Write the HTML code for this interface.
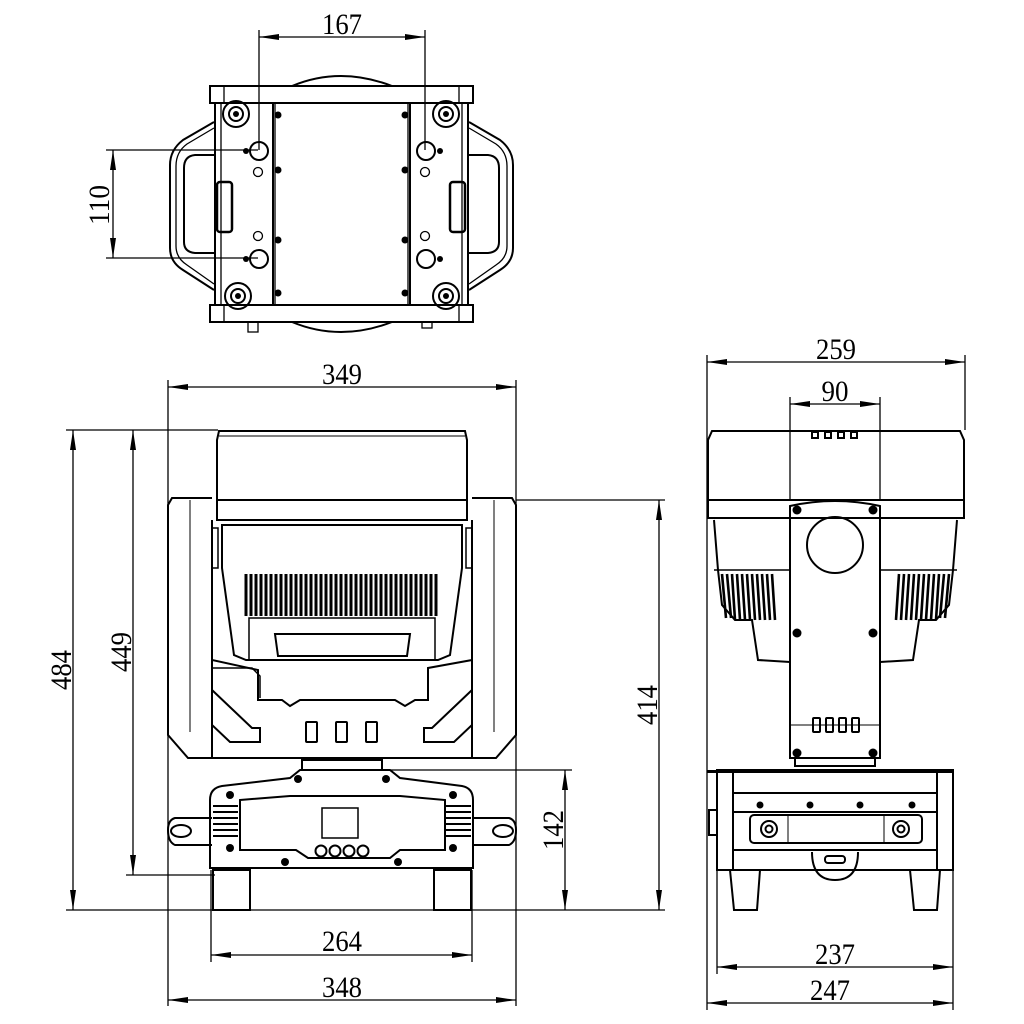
<!DOCTYPE html>
<html><head><meta charset="utf-8"><style>
html,body{margin:0;padding:0;background:#fff}
svg{display:block}
text{font-family:"Liberation Serif",serif;font-size:30px;fill:#000}
</style></head><body>
<svg width="1024" height="1024" viewBox="0 0 1024 1024" xmlns="http://www.w3.org/2000/svg">
<defs>
<marker id="a" viewBox="0 0 20 6" refX="20" refY="3" markerWidth="20" markerHeight="6" markerUnits="userSpaceOnUse" orient="auto-start-reverse"><path d="M0,0L20,3L0,6z" fill="#000"/></marker>
</defs>
<g fill="none" stroke="#000" stroke-width="1.3">
<line x1="259" y1="37" x2="425" y2="37" marker-start="url(#a)" marker-end="url(#a)"/>
<line x1="259" y1="30" x2="259" y2="150"/><line x1="425" y1="30" x2="425" y2="150"/>
<line x1="113" y1="150" x2="113" y2="258" marker-start="url(#a)" marker-end="url(#a)"/>
<line x1="106" y1="150" x2="258" y2="150"/><line x1="106" y1="258" x2="258" y2="258"/>

<line x1="168" y1="387" x2="516" y2="387" marker-start="url(#a)" marker-end="url(#a)"/>
<line x1="168" y1="380" x2="168" y2="1006"/><line x1="516" y1="380" x2="516" y2="1006"/>
<line x1="73" y1="430" x2="73" y2="910" marker-start="url(#a)" marker-end="url(#a)"/>
<line x1="66" y1="430" x2="218" y2="430"/>
<line x1="133" y1="430" x2="133" y2="875" marker-start="url(#a)" marker-end="url(#a)"/>
<line x1="126" y1="875" x2="215" y2="875"/>
<line x1="66" y1="910" x2="665" y2="910"/>
<line x1="659" y1="500" x2="659" y2="910" marker-start="url(#a)" marker-end="url(#a)"/>
<line x1="516" y1="500" x2="665" y2="500"/>
<line x1="565" y1="770" x2="565" y2="910" marker-start="url(#a)" marker-end="url(#a)"/>
<line x1="385" y1="770" x2="572" y2="770"/>
<line x1="211" y1="955" x2="472" y2="955" marker-start="url(#a)" marker-end="url(#a)"/>
<line x1="211" y1="870" x2="211" y2="962"/><line x1="472" y1="870" x2="472" y2="962"/>
<line x1="168" y1="1000" x2="516" y2="1000" marker-start="url(#a)" marker-end="url(#a)"/>

<line x1="707" y1="362" x2="965" y2="362" marker-start="url(#a)" marker-end="url(#a)"/>
<line x1="707" y1="355" x2="707" y2="1010"/><line x1="965" y1="355" x2="965" y2="430"/>
<line x1="790" y1="404" x2="880" y2="404" marker-start="url(#a)" marker-end="url(#a)"/>
<line x1="790" y1="397" x2="790" y2="500"/><line x1="880" y1="397" x2="880" y2="500"/>
<line x1="717" y1="967" x2="953" y2="967" marker-start="url(#a)" marker-end="url(#a)"/>
<line x1="717" y1="870" x2="717" y2="974"/><line x1="953" y1="870" x2="953" y2="1010"/>
<line x1="707" y1="1003" x2="953" y2="1003" marker-start="url(#a)" marker-end="url(#a)"/>

<!-- TOP VIEW -->
<path d="M292,86 Q340,66 392,86" stroke-width="2"/>
<path d="M292,322 Q340,342 392,322" stroke-width="2"/>
<rect x="210" y="86" width="263" height="17" stroke-width="2"/>
<rect x="210" y="305" width="263" height="17" stroke-width="2"/>
<line x1="224" y1="86" x2="224" y2="103"/><line x1="459" y1="86" x2="459" y2="103"/>
<line x1="224" y1="305" x2="224" y2="322"/><line x1="459" y1="305" x2="459" y2="322"/>
<rect x="215" y="103" width="253" height="202" stroke-width="2"/>
<line x1="221" y1="103" x2="221" y2="305"/><line x1="462" y1="103" x2="462" y2="305"/>
<line x1="273" y1="103" x2="273" y2="305" stroke-width="2"/><line x1="410" y1="103" x2="410" y2="305" stroke-width="2"/>
<line x1="275" y1="103" x2="275" y2="305"/><line x1="408" y1="103" x2="408" y2="305"/>
<path d="M214,122 L183,140 Q170,150 170,165 L170,248 Q170,262 183,270 L214,290" stroke-width="2"/>
<path d="M214,128 L187,144 Q176,152 176,166 L176,246 Q176,258 187,265 L214,284"/>
<path d="M214,155 L195,155 Q184,156 184,168 L184,242 Q184,252 195,253 L214,253" stroke-width="2"/>
<rect x="217" y="182" width="15" height="50" rx="3" stroke-width="2.5"/>
<path d="M469,122 L500,140 Q513,150 513,165 L513,248 Q513,262 500,270 L469,290" stroke-width="2"/>
<path d="M469,128 L496,144 Q507,152 507,166 L507,246 Q507,258 496,265 L469,284"/>
<path d="M469,155 L488,155 Q499,156 499,168 L499,242 Q499,252 488,253 L469,253" stroke-width="2"/>
<rect x="450" y="182" width="15" height="50" rx="3" stroke-width="2.5"/>
<g stroke-width="2">
<circle cx="236" cy="114" r="13"/><circle cx="236" cy="114" r="7"/>
<circle cx="446" cy="114" r="13"/><circle cx="446" cy="114" r="7"/>
<circle cx="238" cy="296" r="13"/><circle cx="238" cy="296" r="7"/>
<circle cx="446" cy="296" r="13"/><circle cx="446" cy="296" r="7"/>
<circle cx="259" cy="151" r="9"/><circle cx="426" cy="151" r="9"/>
<circle cx="259" cy="259" r="9"/><circle cx="426" cy="259" r="9"/>
</g>
<circle cx="258" cy="172" r="4.5"/><circle cx="425" cy="172" r="4.5"/>
<circle cx="258" cy="236" r="4.5"/><circle cx="425" cy="236" r="4.5"/>
<rect x="248" y="322" width="10" height="10"/><rect x="422" y="322" width="10" height="6"/>
</g>
<g fill="#000">
<circle cx="236" cy="114" r="3"/><circle cx="446" cy="114" r="3"/><circle cx="238" cy="296" r="3"/><circle cx="446" cy="296" r="3"/>
<circle cx="278" cy="115" r="3.5"/><circle cx="405" cy="115" r="3.5"/>
<circle cx="278" cy="170" r="3.5"/><circle cx="405" cy="170" r="3.5"/>
<circle cx="278" cy="240" r="3.5"/><circle cx="405" cy="240" r="3.5"/>
<circle cx="278" cy="293" r="3.5"/><circle cx="405" cy="293" r="3.5"/>
<circle cx="246" cy="151" r="3"/><circle cx="440" cy="151" r="3"/>
<circle cx="246" cy="259" r="3"/><circle cx="440" cy="259" r="3"/>
</g>

<!-- FRONT VIEW -->
<g fill="none" stroke="#000" stroke-width="2">
<path d="M219,431 L465,431 L467,440 L467,520 L217,520 L217,440 Z"/>
<line x1="217" y1="500" x2="467" y2="500"/>
<line x1="219" y1="436" x2="465" y2="436" stroke-width="1"/>
<path d="M212,498 L172,498 L168,505 L168,735 L188,758 L212,758"/>
<line x1="190" y1="500" x2="190" y2="732" stroke-width="1"/>
<path d="M472,498 L512,498 L516,505 L516,735 L496,758 L472,758"/>
<line x1="494" y1="500" x2="494" y2="732" stroke-width="1"/>
<path d="M222,525 L462,525 L462,568 L450,655 L438,660 L246,660 L234,655 L222,568 Z"/>
<rect x="212" y="528" width="6" height="40" stroke-width="1.5"/><rect x="466" y="528" width="6" height="40" stroke-width="1.5"/>
<rect x="249" y="618" width="186" height="42" stroke-width="1.5"/>
<path d="M275,634 L410,634 L407,656 L278,656 Z"/>
<path d="M212,520 L212,660 L258,670 L258,700 L282,700 L290,706 L300,700 L395,700 L405,706 L415,700 L428,700 L428,668 L472,660 L472,520"/>
<path d="M212,660 L212,758 L472,758 L472,660"/>
<path d="M212,668 L252,668 L260,676 L260,698" stroke-width="1.5"/>
<path d="M212,690 L252,728 L260,728 L260,742 L230,742 L212,725 Z"/>
<path d="M472,690 L432,728 L424,728 L424,742 L454,742 L472,725 Z"/>
<rect x="306" y="722" width="11" height="20" rx="1"/><rect x="336" y="722" width="11" height="20" rx="1"/><rect x="366" y="722" width="11" height="20" rx="1"/>
<rect x="302" y="760" width="80" height="10"/>
<path d="M210,800 Q210,788 222,786 L290,778 L300,770 L390,770 L400,778 L462,786 Q473,788 473,800 L473,868 L210,868 Z"/>
<path d="M240,800 L290,796 L400,796 L445,800 L445,850 L400,850 L390,858 L308,858 L296,850 L240,850 Z"/>
<rect x="322" y="808" width="36" height="30" stroke-width="1.5"/>
<circle cx="321" cy="851" r="5.5"/><circle cx="335" cy="851" r="5.5"/><circle cx="349" cy="851" r="5.5"/><circle cx="363" cy="851" r="5.5"/>
<path d="M212,818 L175,818 Q168,820 168,830 Q168,842 175,845 L212,845"/>
<ellipse cx="181" cy="831" rx="10" ry="6"/>
<path d="M472,818 L509,818 Q516,820 516,830 Q516,842 509,845 L472,845"/>
<ellipse cx="503" cy="831" rx="10" ry="6"/>
<rect x="213" y="870" width="37" height="40"/><rect x="434" y="870" width="37" height="40"/>
</g>
<g stroke="#000" stroke-width="2">
<line x1="213" y1="806" x2="238" y2="806"/><line x1="213" y1="812" x2="238" y2="812"/><line x1="213" y1="818" x2="238" y2="818"/><line x1="213" y1="824" x2="238" y2="824"/><line x1="213" y1="830" x2="238" y2="830"/><line x1="213" y1="836" x2="238" y2="836"/>
<line x1="446" y1="806" x2="471" y2="806"/><line x1="446" y1="812" x2="471" y2="812"/><line x1="446" y1="818" x2="471" y2="818"/><line x1="446" y1="824" x2="471" y2="824"/><line x1="446" y1="830" x2="471" y2="830"/><line x1="446" y1="836" x2="471" y2="836"/>
</g>
<g stroke="#000" stroke-width="3">
<path d="M246,574 V616 M251,574 V616 M256,574 V616 M261,574 V616 M266,574 V616 M271,574 V616 M276,574 V616 M281,574 V616 M286,574 V616 M291,574 V616 M296,574 V616 M301,574 V616 M306,574 V616 M311,574 V616 M316,574 V616 M321,574 V616 M326,574 V616 M331,574 V616 M336,574 V616 M341,574 V616 M346,574 V616 M351,574 V616 M356,574 V616 M361,574 V616 M366,574 V616 M371,574 V616 M376,574 V616 M381,574 V616 M386,574 V616 M391,574 V616 M396,574 V616 M401,574 V616 M406,574 V616 M411,574 V616 M416,574 V616 M421,574 V616 M426,574 V616 M431,574 V616 M436,574 V616"/>
</g>
<g fill="#000">
<circle cx="298" cy="779" r="4"/><circle cx="386" cy="779" r="4"/>
<circle cx="230" cy="795" r="4"/><circle cx="453" cy="795" r="4"/>
<circle cx="230" cy="848" r="4"/><circle cx="453" cy="848" r="4"/>
<circle cx="285" cy="862" r="4"/><circle cx="398" cy="862" r="4"/>
</g>

<!-- SIDE VIEW -->
<g fill="none" stroke="#000" stroke-width="2">
<path d="M712,431 L960,431 L964,440 L964,518 L708,518 L708,440 Z"/>
<line x1="708" y1="500" x2="964" y2="500"/>
<path d="M714,520 L718,570 L722,605 L735,620 L752,620 L758,660 L790,662"/>
<path d="M957,520 L953,570 L949,605 L936,620 L919,620 L913,660 L880,662"/>
<line x1="714" y1="570" x2="790" y2="570" stroke-width="1.5"/><line x1="880" y1="570" x2="957" y2="570" stroke-width="1.5"/>
<path d="M790,506 Q835,496 880,506 L880,758 L790,758 Z"/>
<circle cx="835" cy="545" r="28"/>
<line x1="790" y1="725" x2="880" y2="725" stroke-width="1"/>
<rect x="813" y="718" width="7" height="14" rx="1"/><rect x="826" y="718" width="7" height="14" rx="1"/><rect x="839" y="718" width="7" height="14" rx="1"/><rect x="852" y="718" width="7" height="14" rx="1"/>
<rect x="812" y="432" width="6" height="6"/><rect x="825" y="432" width="6" height="6"/><rect x="838" y="432" width="6" height="6"/><rect x="851" y="432" width="6" height="6"/>
<rect x="795" y="758" width="80" height="8"/>
<rect x="717" y="770" width="236" height="100"/>
<rect x="717" y="770" width="16" height="100"/><rect x="937" y="770" width="16" height="100"/>
<line x1="733" y1="793" x2="937" y2="793"/><line x1="733" y1="812" x2="937" y2="812"/>
<line x1="733" y1="850" x2="937" y2="850"/>
<rect x="750" y="815" width="172" height="28" rx="4"/>
<line x1="788" y1="815" x2="788" y2="843" stroke-width="1"/><line x1="884" y1="815" x2="884" y2="843" stroke-width="1"/>
<circle cx="769" cy="829" r="8"/><circle cx="769" cy="829" r="3.5"/>
<circle cx="901" cy="829" r="8"/><circle cx="901" cy="829" r="3.5"/>
<path d="M812,852 Q812,880 835,880 Q858,880 858,852"/>
<rect x="825" y="856" width="20" height="7" rx="3"/>
<rect x="709" y="810" width="8" height="25"/>
<path d="M730,870 L734,910 L757,910 L760,870"/><path d="M910,870 L914,910 L937,910 L940,870"/>
</g>
<g stroke="#000" stroke-width="2.6">
<path d="M722,574 L726,618 M727,574 L731,618 M732,574 L735,620 M737,574 L740,620 M742,574 L745,620 M747,574 L750,620 M752,574 L755,620 M757,574 L760,620 M762,574 L765,620 M767,574 L770,620 M772,574 L775,620"/>
<path d="M949,574 L945,618 M944,574 L940,618 M939,574 L936,620 M934,574 L931,620 M929,574 L926,620 M924,574 L921,620 M919,574 L916,620 M914,574 L911,620 M909,574 L906,620 M904,574 L901,620 M899,574 L896,620"/>
</g>
<g fill="#000">
<circle cx="797" cy="510" r="4.5"/><circle cx="873" cy="510" r="4.5"/>
<circle cx="797" cy="633" r="4.5"/><circle cx="873" cy="633" r="4.5"/>
<circle cx="797" cy="753" r="4.5"/><circle cx="873" cy="753" r="4.5"/>
<circle cx="760" cy="805" r="3.5"/><circle cx="810" cy="805" r="3.5"/><circle cx="860" cy="805" r="3.5"/><circle cx="912" cy="805" r="3.5"/>
</g>
<rect x="707" y="770" width="246" height="3" fill="#000"/>

<!-- LABELS -->
<text x="342" y="34" text-anchor="middle" textLength="40" lengthAdjust="spacingAndGlyphs">167</text>
<text transform="translate(109,205) rotate(-90)" text-anchor="middle" textLength="40" lengthAdjust="spacingAndGlyphs">110</text>
<text x="342" y="384" text-anchor="middle" textLength="40" lengthAdjust="spacingAndGlyphs">349</text>
<text transform="translate(71,670) rotate(-90)" text-anchor="middle" textLength="40" lengthAdjust="spacingAndGlyphs">484</text>
<text transform="translate(131,652) rotate(-90)" text-anchor="middle" textLength="40" lengthAdjust="spacingAndGlyphs">449</text>
<text transform="translate(657,705) rotate(-90)" text-anchor="middle" textLength="40" lengthAdjust="spacingAndGlyphs">414</text>
<text transform="translate(563,830) rotate(-90)" text-anchor="middle" textLength="40" lengthAdjust="spacingAndGlyphs">142</text>
<text x="342" y="951" text-anchor="middle" textLength="40" lengthAdjust="spacingAndGlyphs">264</text>
<text x="342" y="997" text-anchor="middle" textLength="40" lengthAdjust="spacingAndGlyphs">348</text>
<text x="836" y="359" text-anchor="middle" textLength="40" lengthAdjust="spacingAndGlyphs">259</text>
<text x="835" y="401" text-anchor="middle" textLength="27" lengthAdjust="spacingAndGlyphs">90</text>
<text x="835" y="964" text-anchor="middle" textLength="40" lengthAdjust="spacingAndGlyphs">237</text>
<text x="830" y="1000" text-anchor="middle" textLength="40" lengthAdjust="spacingAndGlyphs">247</text>
</svg>
</body></html>
